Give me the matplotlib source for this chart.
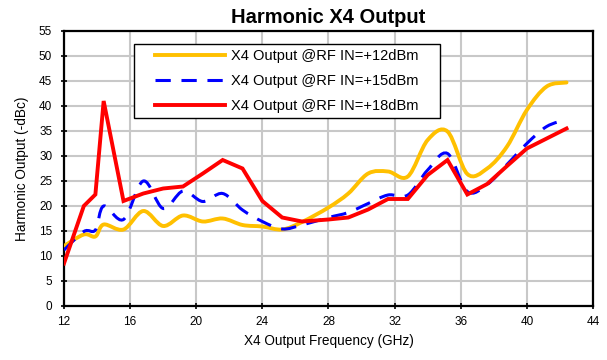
import numpy as np
import matplotlib
matplotlib.use("Agg")
import matplotlib.pyplot as plt
from matplotlib.path import Path
from matplotlib.patches import PathPatch, Rectangle
from matplotlib.lines import Line2D

plt.rcParams['font.family'] = ['Liberation Sans', 'DejaVu Sans']

freq = [12, 13.2, 13.9, 14.4, 15.6, 16.8, 18.0, 19.2, 20.4, 21.6, 22.8, 24.0, 25.2, 26.4,
        28.0, 29.2, 30.4, 31.6, 32.8, 34.0, 35.2, 36.4, 37.6, 38.8, 40.0, 41.2, 42.4]
rf12 = [12.0, 14.3, 13.9, 16.3, 15.3, 19.0, 16.0, 18.1, 16.9, 17.5, 16.2, 15.9, 15.3, 16.8,
        19.7, 22.5, 26.5, 26.9, 25.9, 33.2, 34.9, 26.4, 27.5, 31.9, 39.2, 43.9, 44.7]
rf15 = [11.2, 14.9, 15.2, 20.0, 17.3, 25.0, 19.5, 23.0, 20.9, 22.5, 19.2, 16.9, 15.4, 16.2,
        17.7, 18.7, 20.5, 22.2, 22.2, 27.2, 30.5, 22.9, 24.3, 28.3, 32.5, 35.9, 37.3]
rf18 = [8.5, 20.0, 22.3, 41.0, 21.0, 22.5, 23.5, 23.9, 26.5, 29.2, 27.5, 21.0, 17.7, 16.9,
        17.3, 17.7, 19.3, 21.4, 21.4, 26.2, 29.2, 22.3, 24.4, 28.0, 31.5, 33.5, 35.5]
labels = ['X4 Output @RF IN=+12dBm', 'X4 Output @RF IN=+15dBm', 'X4 Output @RF IN=+18dBm']
colors = ['#FFC000', '#0000FF', '#FF0000']
dash = (0, (5, 3.5))


def smooth_path(x, y):
    # Excel-style smoothed line: Catmull-Rom segments as cubic Beziers
    p = np.column_stack([x, y]).astype(float)
    n = len(p)
    verts = [p[0]]
    codes = [Path.MOVETO]
    for i in range(n - 1):
        p0 = p[i - 1] if i > 0 else p[i]
        p3 = p[i + 2] if i + 2 < n else p[i + 1]
        c1 = p[i] + (p[i + 1] - p0) / 6.0
        c2 = p[i + 1] - (p3 - p[i]) / 6.0
        verts += [c1, c2, p[i + 1]]
        codes += [Path.CURVE4] * 3
    return Path(verts, codes)


fig = plt.figure(figsize=(6.07, 3.6), dpi=100)
ax = fig.add_axes([0.1054, 0.15, 0.8715, 0.7639])

ax.add_patch(PathPatch(smooth_path(freq, rf12), fill=False, edgecolor=colors[0], lw=2.8,
                       capstyle='round', joinstyle='round', zorder=3))
ax.add_patch(PathPatch(smooth_path(freq, rf15), fill=False, edgecolor=colors[1], lw=2.2,
                       linestyle=dash, zorder=4))
ax.plot(freq, rf18, color=colors[2], lw=2.8, solid_joinstyle='miter', zorder=5)

ax.set_xlim(12, 44)
ax.set_ylim(0, 55)
ax.set_xticks(np.arange(12, 45, 4))
ax.set_yticks(np.arange(0, 56, 5))
ax.grid(True, color='#c8c8c8', lw=1.5)
ax.set_axisbelow(True)
for s in ax.spines.values():
    s.set_linewidth(1.6)
ax.tick_params(direction='inout', length=5, width=1.2, labelsize=8.5)
ax.tick_params(axis='x', pad=5)
ax.tick_params(axis='y', pad=6)

ax.set_title('Harmonic X4 Output', fontsize=14.5, fontweight='bold', pad=6)
ax.set_xlabel('X4 Output Frequency (GHz)', fontsize=9.8, labelpad=4)
ax.set_ylabel('Harmonic Output (-dBc)', fontsize=9.8, labelpad=7)

handles = [Line2D([], [], color=colors[0], lw=2.8),
           Line2D([], [], color=colors[1], lw=2.2, linestyle=dash),
           Line2D([], [], color=colors[2], lw=2.8)]
leg = ax.legend(handles, labels, loc='center', bbox_to_anchor=(0.4216, 0.818),
                fontsize=10.5, frameon=False, handlelength=4.8, handletextpad=0.4,
                borderpad=0.0, labelspacing=0.75)
leg.set_zorder(7)
ax.add_patch(Rectangle((0.1323, 0.6836), 0.5785, 0.2691, transform=ax.transAxes,
                       facecolor='white', edgecolor='black', lw=1.0, zorder=6))

fig.savefig('out.png', dpi=100)
